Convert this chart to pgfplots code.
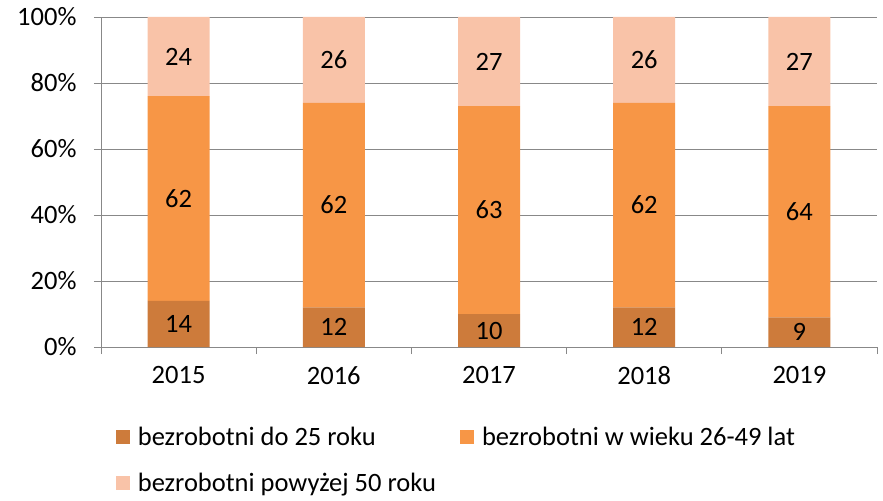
\documentclass[border=0pt]{standalone}
\usepackage{fontspec}
\setmainfont{Carlito}
\usepackage{pgfplots}
\usepackage{pgfplotstable}
\pgfplotsset{compat=1.18}
\definecolor{cYoung}{HTML}{CD7B3B}
\definecolor{cMid}{HTML}{F79646}
\definecolor{cOld}{HTML}{F9C3A8}
\definecolor{axgray}{HTML}{888888}

% udzialy grup wiekowych bezrobotnych (%)
\pgfplotstableread{
x young mid old
0 14 62 24
1 12 62 26
2 10 63 27
3 12 62 26
4 9  64 27
}\shares

\newcommand\chartfont{\fontsize{26.5}{31}\selectfont}

\pgfplotsset{
  midlabel/.style={
    point meta=explicit,
    nodes near coords,
    every node near coord/.append style={anchor=center, font=\chartfont, text=black},
  },
}

\begin{document}
\begin{tikzpicture}
\begin{axis}[
  scale only axis,
  width=776pt, height=330pt,
  ybar stacked, bar width=62pt,
  xmin=-0.5, xmax=4.5,
  ymin=0, ymax=100,
  axis lines*=left,
  axis line style={draw=axgray, line width=0.9pt},
  ymajorgrids, grid style={draw=axgray, line width=0.9pt},
  ytick={0,20,...,100},
  yticklabel={\pgfmathprintnumber{\tick}\%},
  /pgf/number format/assume math mode=true,
  xtick={0,...,4},
  xticklabels={2015,2016,2017,2018,2019},
  major tick length=7pt,
  tick align=outside,
  tick style={draw=axgray, line width=0.9pt},
  major x tick style={draw=none},
  extra x ticks={-0.5,0.5,...,4.5},
  extra x tick labels={},
  extra x tick style={grid=none, major x tick style={draw=axgray, line width=0.9pt}},
  ticklabel style={font=\chartfont, text=black},
  yticklabel style={xshift=-14pt},
  xticklabel style={yshift=-9pt},
  legend columns=2,
  legend cell align=left,
  legend image code/.code={\fill[#1] (0pt,-7pt) rectangle (14pt,7pt);},
  legend style={at={(0.015,-0.229)}, anchor=north west, draw=none, fill=none,
    font=\chartfont, row sep=22pt,
    /tikz/every odd column/.append style={column sep=6pt},
    /tikz/every even column/.append style={column sep=22pt}},
  clip=false,
]
\addplot[fill=cYoung, draw=none, midlabel] table[x=x, y=young, meta=young] {\shares};
\addlegendentry{bezrobotni do 25 roku}
\addplot[fill=cMid, draw=none, midlabel] table[x=x, y=mid, meta=mid] {\shares};
\addlegendentry{bezrobotni w wieku 26-49 lat}
\addplot[fill=cOld, draw=none, midlabel] table[x=x, y=old, meta=old] {\shares};
\addlegendentry{bezrobotni powyżej 50 roku}
\coordinate (bl) at (rel axis cs:0,0);
\coordinate (tr) at (rel axis cs:1,1);
\end{axis}
\path ([shift={(-101pt,-153pt)}]bl) rectangle ([shift={(6pt,17pt)}]tr);
\end{tikzpicture}
\end{document}
